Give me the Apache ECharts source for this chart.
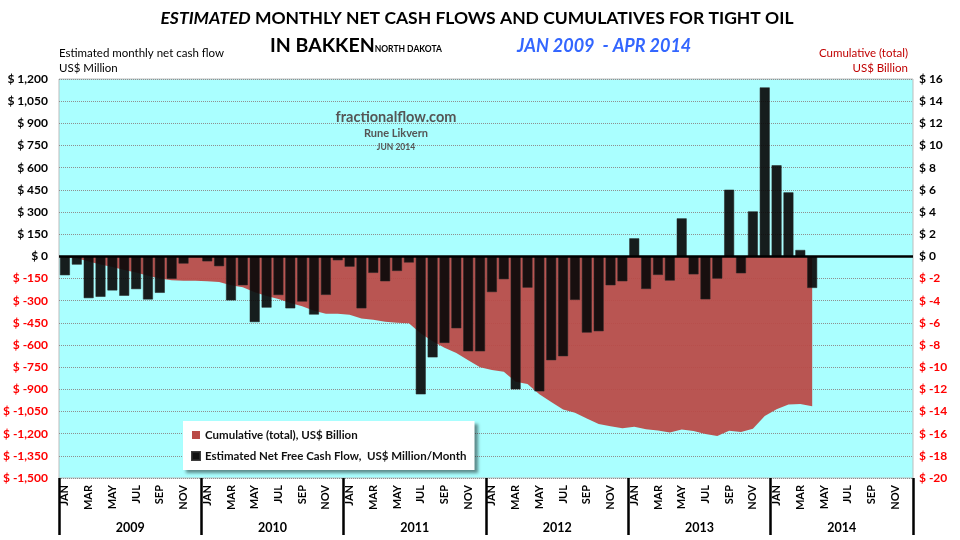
<!DOCTYPE html>
<html>
<head>
<meta charset="utf-8">
<script src="https://cdn.jsdelivr.net/npm/echarts@6/dist/echarts.min.js"></script>
<style>html,body{margin:0;padding:0;background:#fff}#c{width:960px;height:540px}</style>
</head>
<body>
<div id="c"></div>
<script>
// ---- data ----
var years = ['2009', '2010', '2011', '2012', '2013', '2014'];
var monthNames = ['JAN', 'FEB', 'MAR', 'APR', 'MAY', 'JUN', 'JUL', 'AUG', 'SEP', 'OCT', 'NOV', 'DEC'];
// Estimated net free cash flow, US$ Million / month (Jan 2009 - Apr 2014)
var cashFlow = [
  -128, -56, -283, -274, -231, -267, -222, -292, -247, -152, -49, -3,
  -34, -67, -298, -196, -445, -347, -262, -352, -306, -394, -261, -27,
  -70, -352, -112, -169, -99, -42, -934, -684, -586, -487, -643, -643,
  -242, -155, -900, -212, -914, -703, -676, -295, -516, -507, -196, -169,
  122, -221, -126, -164, 257, -122, -291, -151, 451, -115, 304, 1143,
  616, 433, 43, -214
];
// Cumulative (total), US$ Billion
var cumulative = [
  -0.13, -0.18, -0.47, -0.74, -0.97, -1.24, -1.46, -1.75, -2.00, -2.15, -2.20, -2.20,
  -2.24, -2.31, -2.60, -2.80, -3.24, -3.59, -3.85, -4.21, -4.51, -4.91, -5.17, -5.19,
  -5.26, -5.62, -5.73, -5.90, -6.00, -6.04, -6.97, -7.66, -8.24, -8.73, -9.37, -10.01,
  -10.26, -10.41, -11.31, -11.52, -12.44, -13.14, -13.82, -14.11, -14.63, -15.13, -15.33, -15.50,
  -15.38, -15.60, -15.72, -15.89, -15.63, -15.75, -16.04, -16.20, -15.74, -15.86, -15.56, -14.41,
  -13.80, -13.36, -13.32, -13.53
];
var seriesNames = ['Cumulative (total), US$ Billion', 'Estimated Net Free Cash Flow,  US$ Million/Month'];

// ---- build ----
var categories = [];
years.forEach(function (y) { monthNames.forEach(function (m) { categories.push(m + ' ' + y); }); });

var FONT = 'Lato, "Noto Sans", sans-serif';
var chart = echarts.init(document.getElementById('c'), null, { renderer: 'canvas' });

function fmtLeft(v) { return '$ ' + v.toLocaleString('en-US'); }
function negRed(v) { return Number(v) < 0 ? '#FF0000' : '#000000'; }

var option = {
  animation: false,
  backgroundColor: '#ffffff',
  grid: { left: 55, right: 47, top: 79, bottom: 62, show: true, backgroundColor: '#AAFFFF', borderColor: '#bdbdbd', borderWidth: 1, containLabel: false },
  legend: {
    orient: 'vertical', left: 183, top: 421,
    backgroundColor: '#ffffff', padding: [8, 8, 8, 8], itemGap: 9,
    itemWidth: 8, itemHeight: 8,
    shadowColor: 'rgba(0,0,0,0.45)', shadowBlur: 3, shadowOffsetX: 3, shadowOffsetY: 3,
    textStyle: { fontFamily: FONT, fontWeight: 'bold', fontSize: 11.5, color: '#111' },
    data: [
      { name: seriesNames[0], icon: 'rect', itemStyle: { color: '#BA4A47' } },
      { name: seriesNames[1], icon: 'rect', itemStyle: { color: '#111111' } }
    ]
  },
  xAxis: [
    {
      type: 'category', data: categories, gridIndex: 0, position: 'bottom',
      axisLine: { show: false, onZero: false }, axisTick: { show: false },
      axisLabel: {
        interval: 1, rotate: 90, margin: 7,
        fontFamily: FONT, fontWeight: 'bold', fontSize: 11, color: '#000',
        formatter: function (v) { return v.split(' ')[0]; }
      },
      splitLine: { show: false }
    },
    {
      type: 'category', data: years, gridIndex: 0, position: 'bottom', boundaryGap: true,
      axisLine: { show: false, onZero: false },
      axisTick: { show: true, length: 57, lineStyle: { color: '#000', width: 2.5 } },
      axisLabel: { margin: 43, fontFamily: FONT, fontWeight: 'bold', fontSize: 12.5, color: '#000' },
      splitLine: { show: false }
    }
  ],
  yAxis: [
    {
      type: 'value', min: -1500, max: 1200, interval: 150, position: 'left',
      axisLine: { show: false }, axisTick: { show: false },
      axisLabel: { margin: 11, fontFamily: FONT, fontWeight: 'bold', fontSize: 12, color: negRed, formatter: fmtLeft },
      splitLine: { show: true, lineStyle: { color: '#8f8f8f', type: 'dotted', width: 1 } }
    },
    {
      type: 'value', min: -20, max: 16, interval: 2, position: 'right',
      axisLine: { show: false }, axisTick: { show: false },
      axisLabel: { margin: 6, fontFamily: FONT, fontWeight: 'bold', fontSize: 12, color: negRed, formatter: function (v) { return '$ ' + v; } },
      splitLine: { show: false }
    }
  ],
  series: [
    {
      name: seriesNames[0], type: 'line', xAxisIndex: 0, yAxisIndex: 1,
      data: cumulative, symbol: 'none', smooth: false, z: 1,
      lineStyle: { width: 0, color: '#BA4A47' },
      itemStyle: { color: '#BA4A47' },
      areaStyle: { color: '#BA4A47', opacity: 0.94 }
    },
    {
      name: seriesNames[1], type: 'bar', xAxisIndex: 0, yAxisIndex: 0,
      data: cashFlow, barCategoryGap: '16%', z: 3,
      itemStyle: { color: 'rgba(10,10,10,0.92)', borderColor: 'rgba(40,40,40,0.9)', borderWidth: 0.6 },
      markLine: {
        silent: true, symbol: 'none', label: { show: false },
        lineStyle: { color: '#000', width: 2.5, type: 'solid' },
        data: [{ yAxis: 0 }]
      }
    }
  ],
  graphic: [
    { type: 'text', x: 477, y: 18, style: { text: '{a|ESTIMATED}{b| MONTHLY NET CASH FLOWS AND CUMULATIVES FOR TIGHT OIL}', textAlign: 'center', textVerticalAlign: 'middle',
      rich: { a: { fontFamily: FONT, fontSize: 17.5, fontWeight: 'bold', fontStyle: 'italic', fill: '#000' }, b: { fontFamily: FONT, fontSize: 17.5, fontWeight: 'bold', fill: '#000' } } } },
    { type: 'text', x: 270, y: 46, style: { text: '{a|IN BAKKEN}{s|NORTH DAKOTA}', textAlign: 'left', textVerticalAlign: 'middle',
      rich: { a: { fontFamily: FONT, fontSize: 19.5, fontWeight: 'bold', fill: '#000', verticalAlign: 'bottom' }, s: { fontFamily: FONT, fontSize: 8.5, fontWeight: 'bold', fill: '#000', verticalAlign: 'bottom', padding: [0, 0, 2, 0] } } } },
    { type: 'text', x: 517, y: 46, style: { text: 'JAN 2009  - APR 2014', textAlign: 'left', textVerticalAlign: 'middle', fontFamily: FONT, fontSize: 18, fontStyle: 'italic', fontWeight: 'bold', fill: '#3366FF' } },
    { type: 'text', x: 59, y: 53, style: { text: 'Estimated monthly net cash flow', textVerticalAlign: 'middle', fontFamily: FONT, fontSize: 11.5, fill: '#000' } },
    { type: 'text', x: 59, y: 68, style: { text: 'US$ Million', textVerticalAlign: 'middle', fontFamily: FONT, fontSize: 11.5, fill: '#000' } },
    { type: 'text', x: 908, y: 53, style: { text: 'Cumulative (total)', textAlign: 'right', textVerticalAlign: 'middle', fontFamily: FONT, fontSize: 11.5, fill: '#C00000' } },
    { type: 'text', x: 908, y: 68, style: { text: 'US$ Billion', textAlign: 'right', textVerticalAlign: 'middle', fontFamily: FONT, fontSize: 11.5, fill: '#C00000' } },
    { type: 'text', x: 396, y: 117, z: 10, style: { text: 'fractionalflow.com', textAlign: 'center', textVerticalAlign: 'middle', fontFamily: FONT, fontSize: 14.5, fontWeight: 'bold', fill: '#555' } },
    { type: 'text', x: 396, y: 133, z: 10, style: { text: 'Rune Likvern', textAlign: 'center', textVerticalAlign: 'middle', fontFamily: FONT, fontSize: 11, fontWeight: 'bold', fill: '#555' } },
    { type: 'text', x: 396, y: 147, z: 10, style: { text: 'JUN 2014', textAlign: 'center', textVerticalAlign: 'middle', fontFamily: FONT, fontSize: 8.5, fontWeight: 'bold', fill: '#555' } }
  ]
};
chart.setOption(option);
</script>
</body>
</html>
